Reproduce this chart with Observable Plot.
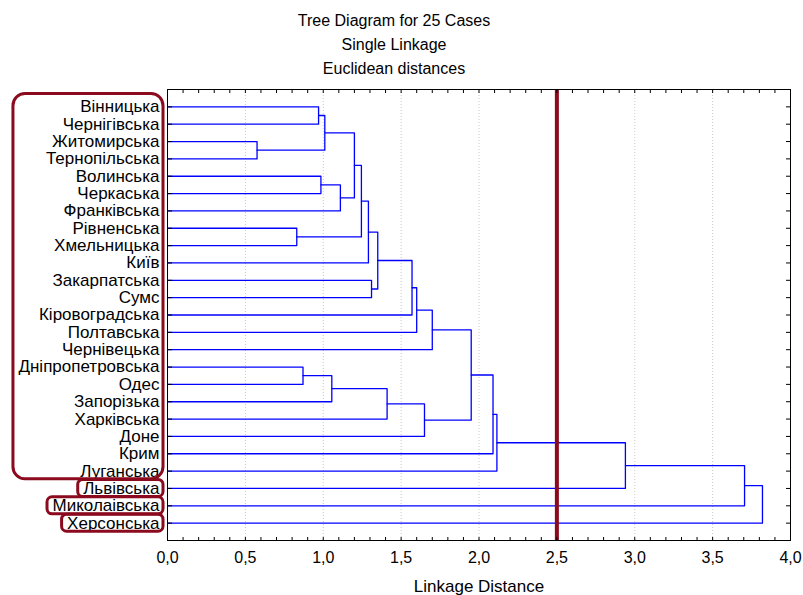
<!DOCTYPE html>
<html>
<head>
<meta charset="utf-8">
<script src="https://cdn.jsdelivr.net/npm/d3@7"></script>
<script src="https://cdn.jsdelivr.net/npm/@observablehq/plot@0.6"></script>
<style>
  body { margin: 0; background: #fff; }
</style>
</head>
<body>
<div id="chart"></div>
<script>
// Leaves, top to bottom
const leaves = ["Вінницька","Чернігівська","Житомирська","Тернопільська","Волинська","Черкаська","Франківська","Рівненська","Хмельницька","Київ","Закарпатська","Сумс","Кіровоградська","Полтавська","Чернівецька","Дніпропетровська","Одес","Запорізька","Харківська","Доне","Крим","Луганська","Львівська","Миколаівська","Херсонська"];
// Merge steps: children (leaf index, or 25 + earlier step), linkage distance
const mergeA = [0, 2, 25, 4, 28, 27, 7, 30, 32, 10, 33, 35, 36, 37, 15, 39, 40, 41, 38, 43, 44, 45, 46, 47];
const mergeB = [1, 3, 26, 5, 6, 29, 8, 31, 9, 11, 34, 12, 13, 14, 16, 17, 18, 19, 42, 20, 21, 22, 23, 24];
const mergeH = [0.97, 0.575, 1.01, 0.985, 1.11, 1.20, 0.83, 1.245, 1.29, 1.31, 1.35, 1.57, 1.60, 1.70, 0.87, 1.055, 1.41, 1.65, 1.95, 2.09, 2.115, 2.94, 3.705, 3.82];
const cutDistance = [2.5];
const xTicks = [0, 0.5, 1, 1.5, 2, 2.5, 3, 3.5, 4];
const titleLines = ["Tree Diagram for 25 Cases", "Single Linkage", "Euclidean distances"];
const xLabel = "Linkage Distance";
// Highlighted label groups (first leaf, last leaf)
const groupFirst = [0, 22, 23, 24];
const groupLast = [21, 22, 23, 24];

// node positions
const n = leaves.length;
const nodeY = leaves.map((_, i) => i);
const nodeH = leaves.map(() => 0);
mergeH.forEach((h, k) => {
  nodeY.push((nodeY[mergeA[k]] + nodeY[mergeB[k]]) / 2);
  nodeH.push(h);
});
const segs = [];
mergeH.forEach((h, k) => {
  const a = mergeA[k], b = mergeB[k];
  segs.push({k, x: nodeH[a], y: nodeY[a]});
  segs.push({k, x: h, y: nodeY[a]});
  segs.push({k, x: h, y: nodeY[b]});
  segs.push({k, x: nodeH[b], y: nodeY[b]});
});

const W = 803, H = 595, mL = 167, mR = 13, mT = 89, mB = 55;
const FONT = "Liberation Sans, Arial, sans-serif";
const FS = 17;
const pxPerUnit = (W - mL - mR) / 4;
const canvas = document.createElement("canvas");
const ctx = canvas.getContext("2d");
ctx.font = `${FS}px ${FONT}`;
const tickPad = 8;
const boxes = groupFirst.map((f, i) => {
  const l = groupLast[i];
  const wMax = d3.max(leaves.slice(f, l + 1), s => ctx.measureText(s).width);
  const big = l > f;
  return {
    x1: -(tickPad + wMax + 5) / pxPerUnit,
    x2: -4 / pxPerUnit,
    y1: f - (big ? 0.74 : 0.49),
    y2: l + (big ? 0.47 : 0.49),
    big
  };
});
const red = "#8b0a1e";

const fmt = d => d.toFixed(1).replace(".", ",");
const minor = d3.range(0, 41).map(i => i / 10);
const titleOffsets = [-75, -51, -27];

const chart = Plot.plot({
  width: W, height: H,
  marginLeft: mL, marginRight: mR, marginTop: mT, marginBottom: mB,
  style: {fontFamily: FONT, fontSize: FS + "px", background: "#fff", color: "#000"},
  x: {domain: [0, 4]},
  y: {domain: [-1.0, 25.0], range: [mT, H - mB]},
  marks: [
    Plot.gridX(xTicks.slice(1, -1), {stroke: "#c8c8c8", strokeOpacity: 1, strokeDasharray: "1,2"}),
    Plot.line(segs, {x: "x", y: "y", z: "k", stroke: "#0000ff", strokeWidth: 1.3, curve: "linear"}),
    Plot.ruleX(cutDistance, {stroke: red, strokeWidth: 4}),
    Plot.frame({stroke: "#000", strokeWidth: 1}),
    Plot.axisX(minor, {anchor: "bottom", tickSize: -3, tickFormat: () => ""}),
    Plot.axisX(minor, {anchor: "top", tickSize: -3, tickFormat: () => ""}),
    Plot.axisX(xTicks, {anchor: "bottom", tickSize: 0, tickPadding: 11, tickFormat: fmt, fontSize: 16, label: null}),
    Plot.axisY(d3.range(n), {anchor: "left", tickSize: -5, tickFormat: () => ""}),
    Plot.axisY(d3.range(n), {anchor: "right", tickSize: -5, tickFormat: () => ""}),
    Plot.axisY(d3.range(n), {anchor: "left", tickSize: 0, tickPadding: tickPad, tickFormat: i => leaves[i], fontSize: FS, label: null}),
    Plot.rect(boxes.filter(d => d.big), {x1: "x1", x2: "x2", y1: "y1", y2: "y2", fill: "none", stroke: red, strokeWidth: 3, rx: 12}),
    Plot.rect(boxes.filter(d => !d.big), {x1: "x1", x2: "x2", y1: "y1", y2: "y2", fill: "none", stroke: red, strokeWidth: 3, rx: 5}),
    Plot.text([xLabel], {frameAnchor: "bottom", dy: 51, fontSize: 17, fill: "#000"}),
    ...titleLines.map((t, i) => Plot.text([t], {frameAnchor: "top", dx: -85, dy: titleOffsets[i], fontSize: 16, fill: "#000"}))
  ]
});
document.getElementById("chart").appendChild(chart);
</script>
</body>
</html>
